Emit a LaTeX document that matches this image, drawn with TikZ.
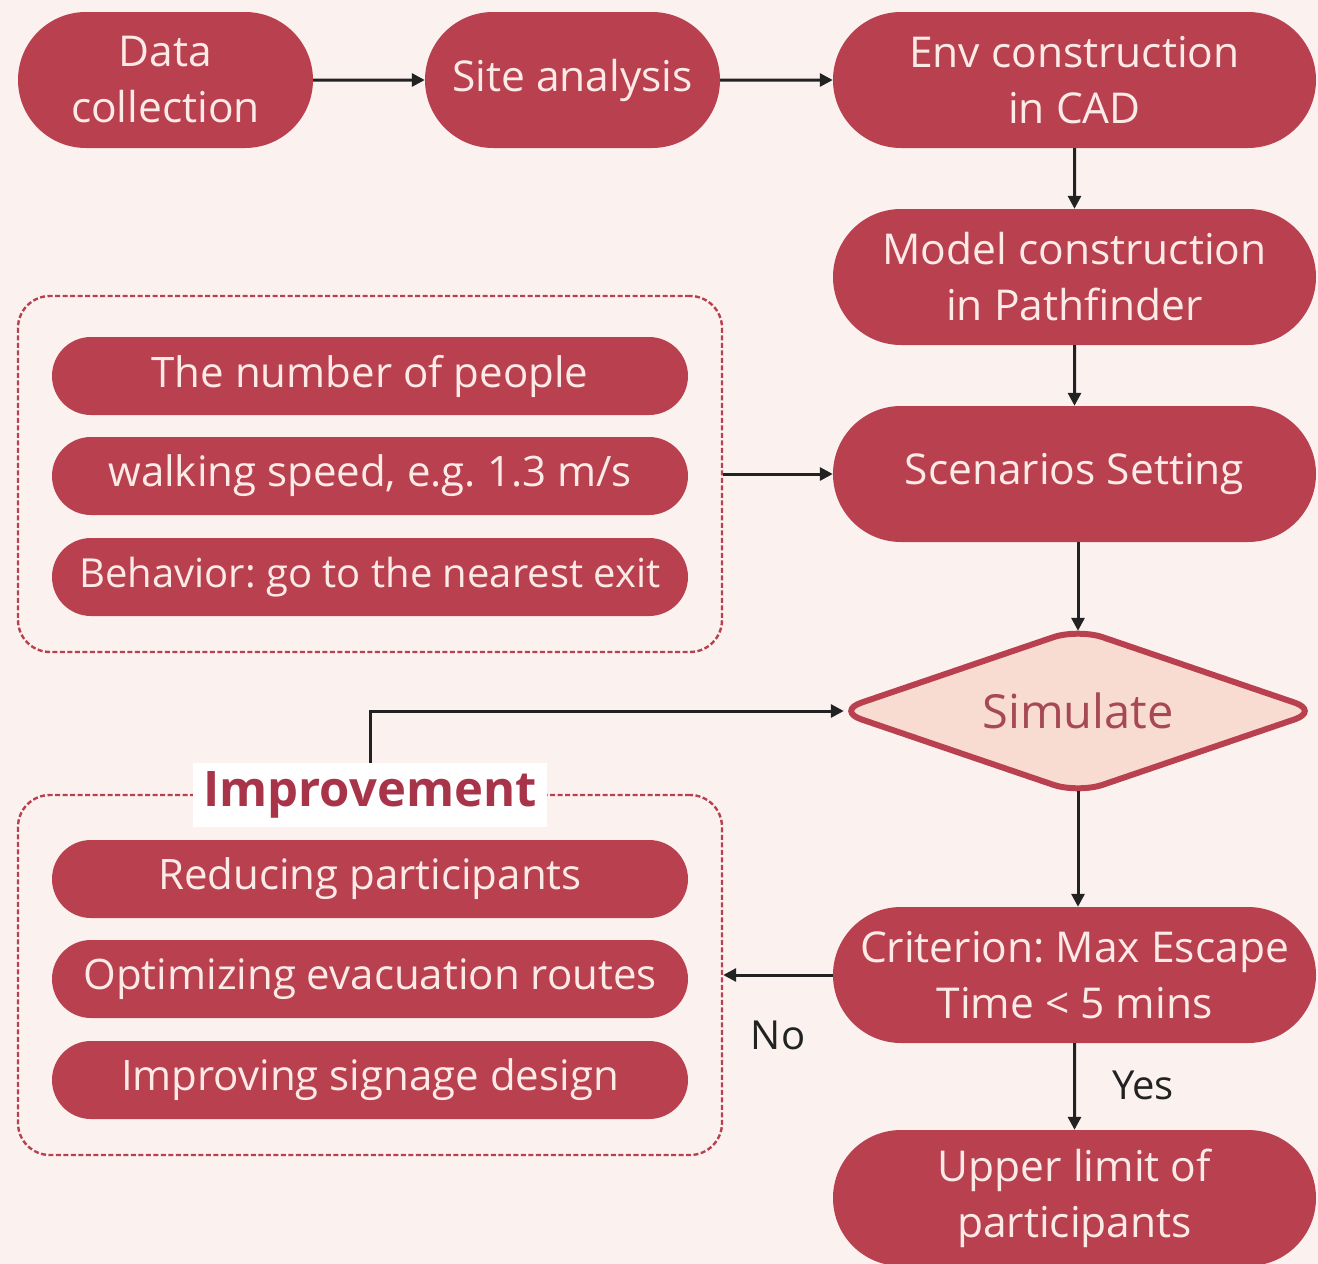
\documentclass[tikz,border=0pt]{standalone}
\usepackage{fontspec}
\setmainfont{Open Sans}
\frenchspacing
\usetikzlibrary{shapes.geometric,shapes.misc,arrows.meta,calc}
\definecolor{bg}{HTML}{FBF2EF}
\definecolor{crim}{HTML}{B8404F}
\definecolor{crimtxt}{HTML}{FCEAE7}
\definecolor{peach}{HTML}{F9DCD1}
\definecolor{simtxt}{HTML}{A64856}
\definecolor{imptxt}{HTML}{A8344A}
\definecolor{arrcol}{HTML}{222222}
\tikzset{
  pill/.style={rounded rectangle, fill=crim, text=crimtxt, align=center,
    minimum width=483pt, minimum height=136pt, inner sep=0pt,
    font=\fontsize{42.5}{56}\selectfont},
  smallpill/.style={rounded rectangle, fill=crim, text=crimtxt, align=center,
    minimum width=636pt, minimum height=78pt, inner sep=0pt,
    font=\fontsize{42}{48}\selectfont},
  groupbox/.style={draw=crim, dash pattern=on 5pt off 2.5pt, line width=2.4pt,
    rounded corners=32pt, minimum width=704pt, inner sep=0pt},
  arr/.style={draw=arrcol, line width=3pt, -{Triangle[length=13pt,width=13pt]}},
  lbl/.style={text=arrcol, font=\fontsize{40}{46}\selectfont}
}
\begin{document}
\begin{tikzpicture}[x=1pt,y=-1pt]
\useasboundingbox (0,0) rectangle (1318,1264);
\fill[bg] (0,0) rectangle (1318,1264);
\begin{scope}
\clip (0,0) rectangle (1318,1264);
% top row
\node[pill, minimum width=295pt] (data) at (165.5,80) {Data\\collection};
\node[pill, minimum width=295pt] (site) at (572.5,80) {Site analysis};
\node[pill] (env) at (1074.5,80) {Env construction\\in CAD};
\node[pill] (model) at (1074.5,277) {Model construction\\in Pathfinder};
\node[pill] (scen) at (1074.5,474) {Scenarios Setting};
% decision
\node[rectangle, inner sep=0pt, minimum width=468pt, minimum height=160pt] (sim) at (1078,711) {};
\draw[draw=crim, fill=peach, line width=6pt, rounded corners=26pt]
  ($(sim.west)+(-7,0)$) -- ($(sim.north)+(0,-2)$) -- ($(sim.east)+(7,0)$)
  -- ($(sim.south)+(0,2)$) -- cycle;
\node[text=simtxt, font=\fontsize{47}{52}\selectfont] (simtext) at (sim.center) {Simulate};
\node[pill] (crit) at (1074.5,975) {Criterion: Max Escape\\Time < 5 mins};
\node[pill] (upper) at (1074.5,1198) {Upper limit of\\participants};
% group 1
\node[groupbox, minimum height=356pt] (g1) at (370,474) {};
\node[smallpill] (p1) at (370,376) {The number of people};
\node[smallpill] (p2) at (370,476) {walking speed, e.g. 1.3 m/s};
\node[smallpill, font=\fontsize{40}{48}\selectfont] (p3) at (370,577) {Behavior: go to the nearest exit};
% group 2
\node[groupbox, minimum height=360pt] (g2) at (370,975) {};
\node[fill=white, text=imptxt, inner xsep=10pt, minimum height=64pt,
  font=\fontsize{49}{52}\selectfont\bfseries] (imp) at (370,795) {Improvement};
\node[smallpill] (q1) at (370,879) {Reducing participants};
\node[smallpill] (q2) at (370,979) {Optimizing evacuation routes};
\node[smallpill] (q3) at (370,1080) {Improving signage design};
% connectors
\draw[arr] (data) -- (site);
\draw[arr] (site) -- (env);
\draw[arr] (env) -- (model);
\draw[arr] (model) -- (scen);
\draw[arr] (g1.east) -- (scen.west);
\draw[arr] (scen.south -| sim.north) -- (sim.north);
\draw[arr] (imp.north) |- (sim.west);
\draw[arr] (sim.south) -- (sim.south |- crit.north);
\draw[arr] (crit.west) -- (g2.east);
\draw[arr] (crit) -- (upper);
\node[lbl] (no) at (778,1035) {No};
\node[lbl] (yes) at (1143,1085) {Yes};
\end{scope}
\end{tikzpicture}
\end{document}
